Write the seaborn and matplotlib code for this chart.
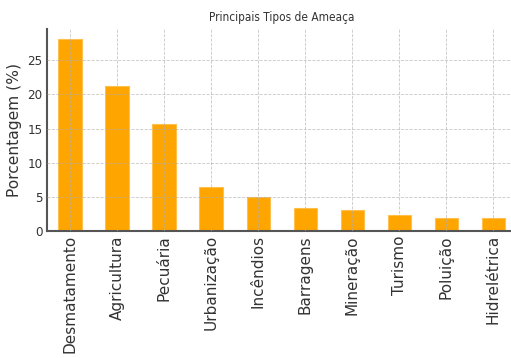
import matplotlib
matplotlib.use("Agg")
import matplotlib.pyplot as plt
import seaborn as sns
import pandas as pd

categories = ["Desmatamento", "Agricultura", "Pecuária", "Urbanização", "Incêndios",
              "Barragens", "Mineração", "Turismo", "Poluição", "Hidrelétrica"]
values = [28.2, 21.3, 15.6, 6.5, 5.0, 3.4, 3.1, 2.4, 1.9, 1.9]
yticks = [0, 5, 10, 15, 20, 25]

df = pd.DataFrame({"Tipo": categories, "Porcentagem": values})

sns.set_theme(style="white")
plt.rcParams['font.family'] = ['DejaVu Sans']

fig = plt.figure(figsize=(5.11, 3.58), dpi=100)
ax = fig.add_axes([0.0914, 0.355, 0.92, 0.564])

sns.barplot(data=df, x="Tipo", y="Porcentagem", color="#FFA500", saturation=1,
            width=0.5, edgecolor="#FFC04D", linewidth=0.8, ax=ax)

ax.set_xlim(-0.5, 9.5)
ax.set_ylim(0, 29.6)
ax.set_yticks(yticks)
ax.grid(True, color="#b0b0b0", linestyle="--", linewidth=0.6, alpha=0.7)
ax.set_axisbelow(False)

for s in ["top", "right"]:
    ax.spines[s].set_visible(False)
for s in ["left", "bottom"]:
    ax.spines[s].set_color("#555555")
    ax.spines[s].set_linewidth(1.5)

ax.tick_params(axis="both", length=0, pad=3, colors="#333333")
ax.set_xticks(range(len(categories)))
ax.set_xticklabels(categories, rotation=90, fontsize=11, color="#333333")
for lab in ax.get_yticklabels():
    lab.set_fontsize(9.5)
    lab.set_fontstretch("condensed")

ax.set_xlabel("")
ax.set_ylabel("Porcentagem (%)", fontsize=11.2, color="#333333", labelpad=4)
ax.set_title("Principais Tipos de Ameaça", fontsize=8.5, fontstretch="condensed",
             color="#333333", pad=6)

fig.savefig("out.png", dpi=100)
